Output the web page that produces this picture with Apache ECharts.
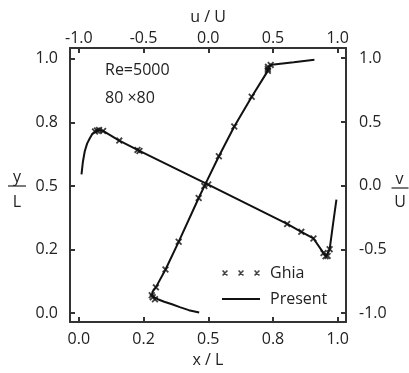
<!DOCTYPE html>
<html>
<head>
<meta charset="utf-8">
<title>Re=5000 centerline velocity</title>
<script src="https://cdn.jsdelivr.net/npm/echarts@6.0.0/dist/echarts.min.js"></script>
<style>
  html, body { margin: 0; padding: 0; background: #fff; }
  #chart { width: 409px; height: 373px; }
</style>
</head>
<body>
<div id="chart"></div>
<script>
// Ghia et al. – u along the vertical centerline
const ghiaY = [0.9766, 0.9688, 0.9609, 0.9531, 0.8516, 0.7344, 0.6172, 0.5000, 0.4531, 0.2813, 0.1719, 0.1016, 0.0703, 0.0625, 0.0547];
const ghiaU = [0.48223, 0.46120, 0.45992, 0.46036, 0.33556, 0.20087, 0.08183, -0.03039, -0.07404, -0.22855, -0.33050, -0.40435, -0.43643, -0.42901, -0.41165];

// Ghia et al. – v along the horizontal centerline
const ghiaX = [0.9688, 0.9609, 0.9531, 0.9453, 0.9063, 0.8594, 0.8047, 0.5000, 0.2344, 0.2266, 0.1563, 0.0938, 0.0781, 0.0703, 0.0625];
const ghiaV = [-0.49774, -0.55069, -0.55408, -0.52876, -0.41442, -0.36214, -0.30018, 0.00945, 0.27280, 0.28066, 0.35368, 0.42951, 0.43648, 0.43329, 0.42447];

// present 80x80 solution
const presentY = [0.003, 0.012, 0.024, 0.035, 0.045, 0.055, 0.063, 0.072, 0.085, 0.1016, 0.1719, 0.2813, 0.4531, 0.5, 0.6172, 0.7344, 0.8516, 0.9531, 0.9688, 0.977, 0.987, 0.997];
const presentU = [-0.07, -0.15, -0.22, -0.28, -0.34, -0.39, -0.42, -0.435, -0.43, -0.405, -0.33, -0.228, -0.074, -0.03, 0.082, 0.201, 0.336, 0.46, 0.465, 0.49, 0.66, 0.82];
const presentX = [0.0104, 0.016, 0.023, 0.032, 0.042, 0.052, 0.0625, 0.075, 0.0938, 0.1563, 0.2344, 0.5, 0.8047, 0.8594, 0.9063, 0.9453, 0.955, 0.9688, 0.982, 0.995];
const presentV = [0.089, 0.19, 0.27, 0.33, 0.37, 0.405, 0.424, 0.436, 0.43, 0.354, 0.273, 0.009, -0.300, -0.362, -0.414, -0.529, -0.555, -0.50, -0.30, -0.11];

// ticks
const posTicks = [0, 0.25, 0.5, 0.75, 1];
const posTickLabels = ['0.0', '0.2', '0.5', '0.8', '1.0'];
const velTicks = [-1, -0.5, 0, 0.5, 1];
const velTickLabels = ['-1.0', '-0.5', '0.0', '0.5', '1.0'];

const FONT = 'Open Sans';
const INK = '#222';
const FRAME = '#333';

// X-shaped marker made of two filled bars
function crossPath(ox, s, d) {
  return 'M' + ox + ',' + d + 'L' + (ox + d) + ',0L' + (ox + s) + ',' + (s - d) + 'L' + (ox + s - d) + ',' + s + 'Z' +
         'M' + (ox + s - d) + ',0L' + (ox + s) + ',' + d + 'L' + (ox + d) + ',' + s + 'L' + ox + ',' + (s - d) + 'Z';
}
const crossSymbol = 'path://' + crossPath(0, 6, 1.1);
const crossRowIcon = 'path://' + crossPath(0, 6, 1.1) + crossPath(16, 6, 1.1) + crossPath(32, 6, 1.1);
const lineIcon = 'path://M0,0L38,0L38,2L0,2Z';

const zip = (a, b) => a.map((v, i) => [v, b[i]]);

function frameAxis(extra, ticks, labels) {
  return Object.assign({
    type: 'value',
    splitLine: { show: false },
    axisLine: { show: true, onZero: false, lineStyle: { color: FRAME, width: 2 } },
    axisTick: { show: true, inside: true, length: 5, customValues: ticks, lineStyle: { color: FRAME, width: 2 } },
    nameTextStyle: { color: INK, fontFamily: FONT, fontSize: 16 }
  }, extra, {
    axisLabel: Object.assign({
      customValues: ticks,
      color: INK,
      fontFamily: FONT,
      fontSize: 16,
      formatter: (v) => labels[ticks.indexOf(v)]
    }, extra.axisLabel || {})
  });
}

const chart = echarts.init(document.getElementById('chart'), null, { renderer: 'canvas' });

const option = {
  animation: false,
  backgroundColor: '#fff',
  grid: { left: 70, right: 63, top: 48, bottom: 47, containLabel: false },
  xAxis: [
    frameAxis({ position: 'bottom', min: -0.034, max: 1.032, name: 'x / L', nameLocation: 'middle', nameGap: 20,
      axisLabel: { margin: 9 } }, posTicks, posTickLabels),
    frameAxis({ position: 'top', min: -1.068, max: 1.064, name: 'u / U', nameLocation: 'middle', nameGap: 22,
      axisLabel: { margin: 2 } }, velTicks, velTickLabels)
  ],
  yAxis: [
    frameAxis({ position: 'left', min: -0.035, max: 1.043, axisLabel: { margin: 12 } }, posTicks, posTickLabels),
    frameAxis({ position: 'right', min: -1.07, max: 1.08, axisLabel: { margin: 13 } }, velTicks, velTickLabels)
  ],
  legend: {
    orient: 'vertical',
    left: 222,
    top: 264,
    padding: 0,
    itemWidth: 38,
    itemHeight: 6,
    itemGap: 8,
    textStyle: { color: INK, fontFamily: FONT, fontSize: 16, lineHeight: 18, padding: [0, 0, 0, 5] },
    data: [
      { name: 'Ghia', icon: crossRowIcon, itemStyle: { color: '#111' } },
      { name: 'Present', icon: lineIcon, itemStyle: { color: '#111' } }
    ]
  },
  graphic: [
    { type: 'text', left: 105, top: 62, style: { text: 'Re=5000', font: '16px "Open Sans"', fill: INK } },
    { type: 'text', left: 105, top: 90, style: { text: '80 \u00d780', font: '16px "Open Sans"', fill: INK } },
    // y / L stacked on the left
    { type: 'text', x: 17, y: 177, style: { text: 'y', font: '16px "Open Sans"', fill: INK, align: 'center', verticalAlign: 'middle' } },
    { type: 'line', shape: { x1: 8, y1: 186, x2: 26, y2: 186 }, style: { stroke: INK, lineWidth: 1.2 } },
    { type: 'text', x: 17, y: 202, style: { text: 'L', font: '16px "Open Sans"', fill: INK, align: 'center', verticalAlign: 'middle' } },
    // v / U stacked on the right
    { type: 'text', x: 399.5, y: 179, style: { text: 'v', font: '16px "Open Sans"', fill: INK, align: 'center', verticalAlign: 'middle' } },
    { type: 'line', shape: { x1: 391.5, y1: 188, x2: 408.5, y2: 188 }, style: { stroke: INK, lineWidth: 1.2 } },
    { type: 'text', x: 400, y: 202, style: { text: 'U', font: '16px "Open Sans"', fill: INK, align: 'center', verticalAlign: 'middle' } }
  ],
  series: [
    {
      name: 'Present', type: 'line', xAxisIndex: 1, yAxisIndex: 0,
      data: zip(presentU, presentY), showSymbol: false, smooth: false,
      lineStyle: { color: '#111', width: 2 }, itemStyle: { color: '#111' }
    },
    {
      name: 'Present', type: 'line', xAxisIndex: 0, yAxisIndex: 1,
      data: zip(presentX, presentV), showSymbol: false, smooth: false,
      lineStyle: { color: '#111', width: 2 }, itemStyle: { color: '#111' }
    },
    {
      name: 'Ghia', type: 'scatter', xAxisIndex: 1, yAxisIndex: 0,
      data: zip(ghiaU, ghiaY), symbol: crossSymbol, symbolSize: 7,
      itemStyle: { color: '#111' }, z: 3
    },
    {
      name: 'Ghia', type: 'scatter', xAxisIndex: 0, yAxisIndex: 1,
      data: zip(ghiaX, ghiaV), symbol: crossSymbol, symbolSize: 7,
      itemStyle: { color: '#111' }, z: 3
    }
  ]
};

chart.setOption(option);
</script>
</body>
</html>
